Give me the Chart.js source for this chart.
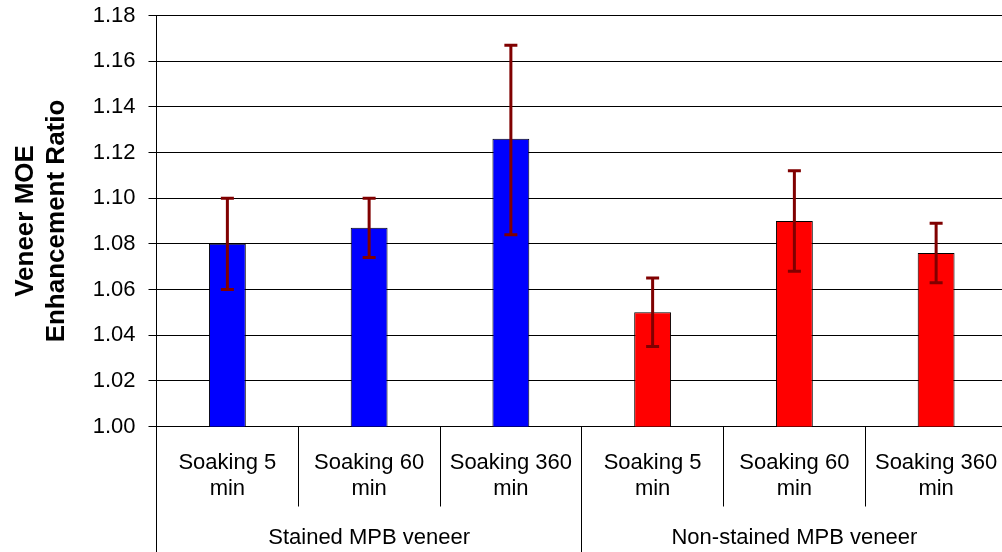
<!DOCTYPE html>
<html><head><meta charset="utf-8">
<script src="https://cdn.jsdelivr.net/npm/chart.js@4.4.0/dist/chart.umd.min.js"></script>
<style>
html,body{margin:0;padding:0;background:#fff;overflow:hidden;}
#wrap{position:relative;width:1008px;height:552px;}
</style></head><body>
<div id="wrap"><canvas id="c"></canvas></div>
<script>
const subCategories = [['Soaking 5','min'],['Soaking 60','min'],['Soaking 360','min'],['Soaking 5','min'],['Soaking 60','min'],['Soaking 360','min']];
const groups = ['Stained MPB veneer','Non-stained MPB veneer'];
const ratioMeans = [1.080, 1.087, 1.126, 1.050, 1.090, 1.076];
const errorUpper = [1.100, 1.100, 1.167, 1.065, 1.112, 1.089];
const errorLower = [1.060, 1.074, 1.084, 1.035, 1.068, 1.063];
const barColors = ['#0000FF','#0000FF','#0000FF','#FF0000','#FF0000','#FF0000'];
const yTickLabels = ['1.00','1.02','1.04','1.06','1.08','1.10','1.12','1.14','1.16','1.18'];

const FONT = "'Liberation Sans', Arial, sans-serif";

const errorBars = {
  id: 'errorBars',
  afterDatasetsDraw(chart) {
    const ctx = chart.ctx, y = chart.scales.y;
    const meta = chart.getDatasetMeta(0);
    ctx.save();
    ctx.strokeStyle = '#800000';
    ctx.lineWidth = 3;
    meta.data.forEach((bar, i) => {
      const x = bar.x;
      const yt = y.getPixelForValue(errorUpper[i]);
      const yb = y.getPixelForValue(errorLower[i]);
      ctx.beginPath();
      ctx.moveTo(x, yt); ctx.lineTo(x, yb);
      ctx.moveTo(x - 6.5, yt); ctx.lineTo(x + 6.5, yt);
      ctx.moveTo(x - 6.5, yb); ctx.lineTo(x + 6.5, yb);
      ctx.stroke();
    });
    ctx.restore();
  }
};

new Chart(document.getElementById('c'), {
  type: 'bar',
  data: {
    labels: subCategories,
    datasets: [{
      data: ratioMeans,
      backgroundColor: barColors,
      borderColor: '#000',
      borderWidth: 1,
      barPercentage: 0.26,
      categoryPercentage: 1.0
    }]
  },
  options: {
    responsive: true,
    maintainAspectRatio: false,
    animation: false,
    events: [],
    layout: { padding: { top: 15.5, right: 1, bottom: 0, left: 0 } },
    plugins: { legend: { display: false }, tooltip: { enabled: false } },
    scales: {
      y: {
        min: 1.0, max: 1.18,
        afterBuildTicks(s) { s.ticks = yTickLabels.map(t => ({ value: parseFloat(t) })); },
        ticks: {
          callback: (v, i) => yTickLabels[i],
          font: { family: FONT, size: 22 }, color: '#000', padding: 13
        },
        grid: { color: '#000', lineWidth: 1, tickLength: 8, drawTicks: true },
        border: { display: true, color: '#000', width: 1 },
        title: {
          display: true, text: ['Veneer MOE', 'Enhancement Ratio'],
          font: { family: FONT, size: 26, weight: 'bold' }, color: '#000',
          padding: { top: 10, bottom: 0 }
        },
        afterFit(s) { s.width = 156.5; s.paddingTop = 0; s.paddingBottom = 0; }
      },
      x: {
        type: 'category', position: 'bottom', offset: true, weight: 0,
        grid: { display: true, drawOnChartArea: false, drawTicks: true, tickLength: 80, color: '#000', offset: true },
        border: { display: true, color: '#000', width: 1 },
        ticks: { font: { family: FONT, size: 22 }, color: '#000', padding: -57, maxRotation: 0, minRotation: 0, autoSkip: false },
        afterFit(s) { s.height = 76; }
      },
      x2: {
        type: 'category', labels: groups, position: 'bottom', offset: true, weight: 1,
        grid: { display: true, drawOnChartArea: false, drawTicks: true, tickLength: 60, color: '#000', offset: true },
        border: { display: false },
        ticks: { font: { family: FONT, size: 22 }, color: '#000', padding: -37.5, maxRotation: 0, minRotation: 0, autoSkip: false },
        afterFit(s) { s.height = 49.5; }
      }
    }
  },
  plugins: [errorBars]
});
</script>
</body></html>
